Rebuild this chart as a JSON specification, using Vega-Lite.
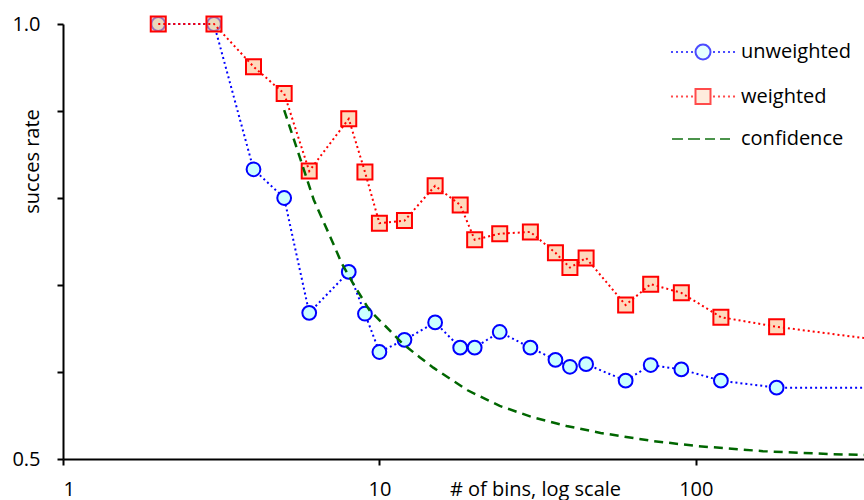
{
  "$schema": "https://vega.github.io/schema/vega-lite/v6.json",
  "width": 801,
  "height": 435,
  "autosize": {"type": "none"},
  "padding": {"left": 63, "top": 24, "right": 0, "bottom": 41},
  "background": "white",
  "config": {
    "font": "Open Sans",
    "view": {"stroke": null},
    "axis": {"grid": false, "domainColor": "black", "domainWidth": 2, "tickColor": "black", "tickWidth": 2, "tickSize": 6, "labelColor": "black", "labelFontSize": 20, "titleFontSize": 20, "titleFontWeight": "normal", "titleColor": "black"}
  },
  "datasets": {
    "rates": [
      {"series": "unweighted", "n": 2, "rate": 1.0},
      {"series": "unweighted", "n": 3, "rate": 1.0},
      {"series": "unweighted", "n": 4, "rate": 0.833},
      {"series": "unweighted", "n": 5, "rate": 0.8},
      {"series": "unweighted", "n": 6, "rate": 0.668},
      {"series": "unweighted", "n": 8, "rate": 0.715},
      {"series": "unweighted", "n": 9, "rate": 0.667},
      {"series": "unweighted", "n": 10, "rate": 0.623},
      {"series": "unweighted", "n": 12, "rate": 0.637},
      {"series": "unweighted", "n": 15, "rate": 0.657},
      {"series": "unweighted", "n": 18, "rate": 0.628},
      {"series": "unweighted", "n": 20, "rate": 0.628},
      {"series": "unweighted", "n": 24, "rate": 0.646},
      {"series": "unweighted", "n": 30, "rate": 0.628},
      {"series": "unweighted", "n": 36, "rate": 0.614},
      {"series": "unweighted", "n": 40, "rate": 0.606},
      {"series": "unweighted", "n": 45, "rate": 0.609},
      {"series": "unweighted", "n": 60, "rate": 0.59},
      {"series": "unweighted", "n": 72, "rate": 0.608},
      {"series": "unweighted", "n": 90, "rate": 0.603},
      {"series": "unweighted", "n": 120, "rate": 0.59},
      {"series": "unweighted", "n": 180, "rate": 0.582},
      {"series": "unweighted", "n": 340, "rate": 0.582},
      {"series": "weighted", "n": 2, "rate": 1.0},
      {"series": "weighted", "n": 3, "rate": 1.0},
      {"series": "weighted", "n": 4, "rate": 0.951},
      {"series": "weighted", "n": 5, "rate": 0.92},
      {"series": "weighted", "n": 6, "rate": 0.831},
      {"series": "weighted", "n": 8, "rate": 0.891},
      {"series": "weighted", "n": 9, "rate": 0.83},
      {"series": "weighted", "n": 10, "rate": 0.771},
      {"series": "weighted", "n": 12, "rate": 0.774},
      {"series": "weighted", "n": 15, "rate": 0.814},
      {"series": "weighted", "n": 18, "rate": 0.792},
      {"series": "weighted", "n": 20, "rate": 0.752},
      {"series": "weighted", "n": 24, "rate": 0.759},
      {"series": "weighted", "n": 30, "rate": 0.761},
      {"series": "weighted", "n": 36, "rate": 0.737},
      {"series": "weighted", "n": 40, "rate": 0.72},
      {"series": "weighted", "n": 45, "rate": 0.731},
      {"series": "weighted", "n": 60, "rate": 0.677},
      {"series": "weighted", "n": 72, "rate": 0.701},
      {"series": "weighted", "n": 90, "rate": 0.691},
      {"series": "weighted", "n": 120, "rate": 0.663},
      {"series": "weighted", "n": 180, "rate": 0.652},
      {"series": "weighted", "n": 340, "rate": 0.639},
      {"series": "confidence", "n": 5, "rate": 0.901},
      {"series": "confidence", "n": 5.6, "rate": 0.847},
      {"series": "confidence", "n": 6.2, "rate": 0.798},
      {"series": "confidence", "n": 7, "rate": 0.755},
      {"series": "confidence", "n": 7.6, "rate": 0.725},
      {"series": "confidence", "n": 8.25, "rate": 0.702},
      {"series": "confidence", "n": 9.3, "rate": 0.671},
      {"series": "confidence", "n": 10.5, "rate": 0.652},
      {"series": "confidence", "n": 11.8, "rate": 0.633},
      {"series": "confidence", "n": 13.4, "rate": 0.617},
      {"series": "confidence", "n": 14.8, "rate": 0.605},
      {"series": "confidence", "n": 19, "rate": 0.579},
      {"series": "confidence", "n": 24, "rate": 0.561},
      {"series": "confidence", "n": 30.5, "rate": 0.548},
      {"series": "confidence", "n": 39, "rate": 0.538},
      {"series": "confidence", "n": 50, "rate": 0.53},
      {"series": "confidence", "n": 72, "rate": 0.521},
      {"series": "confidence", "n": 100, "rate": 0.515},
      {"series": "confidence", "n": 163, "rate": 0.509},
      {"series": "confidence", "n": 265, "rate": 0.5057},
      {"series": "confidence", "n": 340, "rate": 0.5046}
    ]
  },
  "data": {"name": "rates"},
  "encoding": {
    "x": {"field": "n", "type": "quantitative", "scale": {"type": "log", "domain": [1, 340], "nice": false},
      "axis": {"values": [1, 10, 100], "format": "d", "labelPadding": 14, "title": "# of bins, log scale", "titleX": 472, "titleY": 36, "titleBaseline": "alphabetic", "titleAnchor": null, "titleAlign": "center"}},
    "y": {"field": "rate", "type": "quantitative", "scale": {"domain": [0.5, 1.0], "nice": false, "zero": false},
      "axis": {"values": [0.5, 0.6, 0.7, 0.8, 0.9, 1.0], "labelExpr": "datum.value == 0.5 || datum.value == 1 ? format(datum.value, '.1f') : ''", "labelPadding": 17, "title": "succes rate", "titleX": -25, "titleY": 137, "titleAngle": -90, "titleBaseline": "alphabetic", "titleAlign": "center", "titleAnchor": null}}
  },
  "layer": [
    {
      "transform": [{"filter": "datum.series == 'unweighted'"}],
      "mark": {"type": "line", "stroke": "#0000ff", "strokeWidth": 2, "strokeDash": [2, 3]}
    },
    {
      "transform": [{"filter": "datum.series == 'unweighted' && datum.n < 300"}],
      "mark": {"type": "point", "shape": "circle", "size": 190, "filled": false, "fill": "#ccffff", "fillOpacity": 1, "stroke": "#0000ff", "strokeWidth": 2, "opacity": 1}
    },
    {
      "transform": [{"filter": "datum.series == 'weighted' && datum.n < 300"}],
      "mark": {"type": "point", "shape": "square", "size": 225, "filled": false, "fill": "#fdbf90", "fillOpacity": 0.6, "stroke": "#ff0000", "strokeWidth": 2, "opacity": 1}
    },
    {
      "transform": [{"filter": "datum.series == 'weighted'"}],
      "mark": {"type": "line", "stroke": "#ff0000", "strokeWidth": 2, "strokeDash": [2, 3]}
    },
    {
      "transform": [{"filter": "datum.series == 'confidence'"}],
      "mark": {"type": "line", "stroke": "#006600", "strokeWidth": 2.5, "strokeDash": [9, 6]}
    },
    {
      "transform": [{"filter": "false"}],
      "mark": {"type": "point", "filled": false, "strokeWidth": 2},
      "encoding": {
        "stroke": {"field": "series", "type": "nominal", "scale": {"domain": ["unweighted", "weighted", "confidence"], "range": ["#0000ff", "#ff0000", "#006600"]},
          "legend": {"title": null, "orient": "none", "legendX": 630, "legendY": 18, "padding": 0, "symbolSize": 225, "symbolStrokeWidth": 2, "labelOffset": 28, "labelFontSize": 20, "labelColor": "black", "rowPadding": 20.5, "labelLimit": 300}},
        "fill": {"field": "series", "type": "nominal", "scale": {"domain": ["unweighted", "weighted", "confidence"], "range": ["#ccffff", "#fdd8bc", "transparent"]}},
        "shape": {"field": "series", "type": "nominal", "scale": {"domain": ["unweighted", "weighted", "confidence"], "range": [
          "M-4.27,0h0.27M-3.6,0h0.27M-2.93,0h0.27M-2.27,0h0.27M-1.6,0h0.27M1.33,0h0.27M2,0h0.27M2.67,0h0.27M3.33,0h0.27M4,0h0.27M-1,0A1,1,0,1,0,1,0A1,1,0,1,0,-1,0Z",
          "M-4.27,0h0.27M-3.6,0h0.27M-2.93,0h0.27M-2.27,0h0.27M-1.6,0h0.27M1.33,0h0.27M2,0h0.27M2.67,0h0.27M3.33,0h0.27M4,0h0.27M-1,-1H1V1H-1Z",
          "M-4.13,0H-2.67M-2,0H-0.4M0.27,0H1.6M2.27,0H3.6"
        ]}}
      }
    }
  ]
}
